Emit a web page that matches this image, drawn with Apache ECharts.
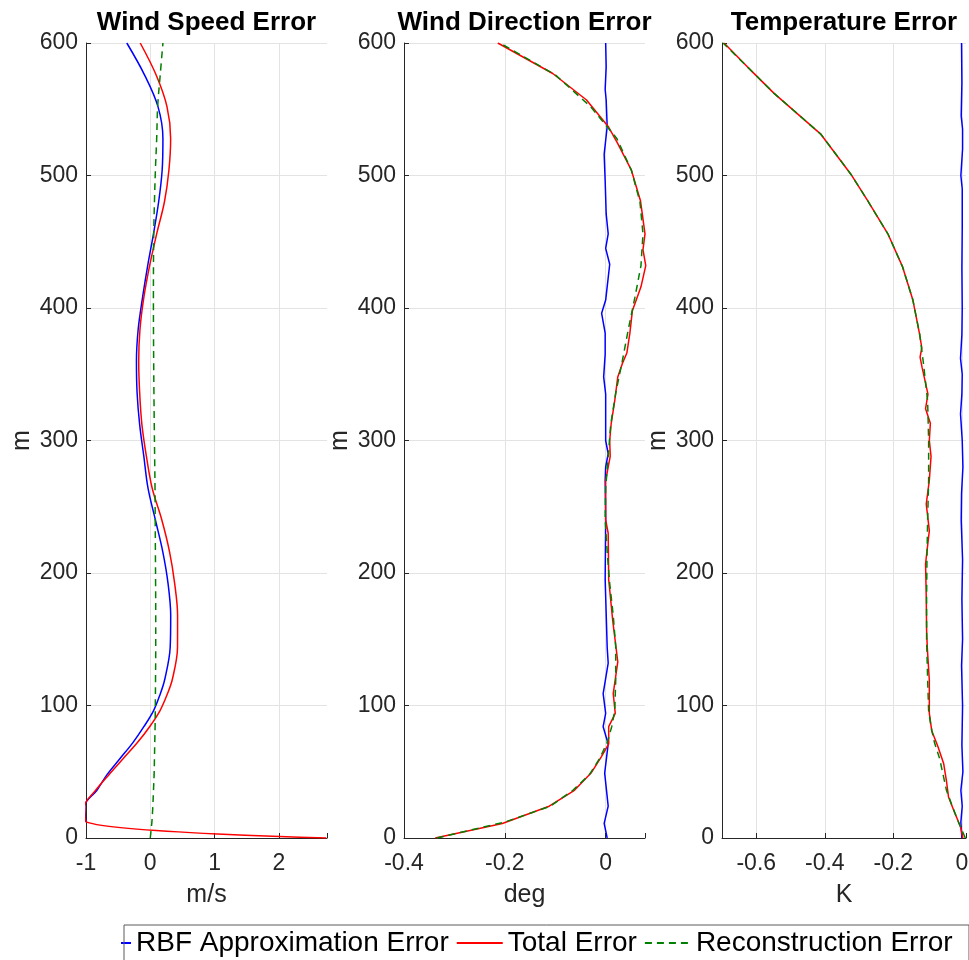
<!DOCTYPE html>
<html>
<head>
<meta charset="utf-8">
<script src="https://cdn.jsdelivr.net/npm/echarts@6/dist/echarts.min.js"></script>
<style>
html,body{margin:0;padding:0;background:#fff;}
#c{width:969px;height:960px;}
</style>
</head>
<body>
<div id="c"></div>
<script>
// ---------- data ----------
const titles = ['Wind Speed Error', 'Wind Direction Error', 'Temperature Error'];
const units = ['m/s', 'deg', 'K'];
const seriesNames = ['RBF Approximation Error', 'Total Error', 'Reconstruction Error'];
const heightTicks = [0, 100, 200, 300, 400, 500, 600];

// Panel 1: Wind speed (m)
const speedH = [0, 12, 24, 36, 48, 60, 72, 84, 96, 108, 120, 144, 168, 192, 216, 240, 264, 288, 312, 336, 360, 384, 408, 432, 456, 480, 504, 528, 552, 576, 600];
const speedRbf = [null, -1.0, -1.02, -0.83, -0.67, -0.47, -0.27, -0.10, 0.05, 0.15, 0.227, 0.31, 0.318, 0.277, 0.195, 0.08, -0.035, -0.10, -0.165, -0.205, -0.215, -0.188, -0.12, -0.04, 0.05, 0.13, 0.185, 0.197, 0.12, -0.09, -0.365];
const speedTotal = [2.74, -0.99, -1.02, -0.85, -0.64, -0.42, -0.2, -0.01, 0.15, 0.26, 0.345, 0.424, 0.425, 0.38, 0.30, 0.18, 0.03, -0.06, -0.13, -0.165, -0.18, -0.16, -0.10, -0.01, 0.10, 0.22, 0.29, 0.317, 0.26, 0.09, -0.156];
const speedRecon = [0.0, 0.025, 0.04, 0.05, 0.06, 0.065, 0.07, 0.075, 0.078, 0.08, 0.082, 0.085, 0.085, 0.083, 0.08, 0.077, 0.074, 0.068, 0.062, 0.057, 0.053, 0.05, 0.049, 0.05, 0.054, 0.065, 0.08, 0.1, 0.115, 0.155, 0.197];

// Panel 2: Wind direction
const dirRbfH = [0, 11, 24, 49, 71, 84, 94, 109, 132, 144, 195, 240, 270, 280, 290, 300, 335, 348, 365, 381, 396, 406, 433, 445, 456, 471, 496, 516, 537, 557, 565, 582, 600];
const dirRbf = [0.003, -0.003, 0.005, -0.002, 0.005, -0.005, 0.0, -0.005, 0.005, 0.003, -0.001, 0.0, -0.001, 0.0, 0.005, 0.0, 0.0, -0.004, -0.001, -0.001, -0.008, 0.0, 0.008, 0.0, 0.005, 0.001, -0.001, -0.003, 0.003, 0.001, -0.001, 0.001, 0.0];
const dirTotalH = [0, 11, 24, 36, 49, 61, 71, 84, 94, 109, 133, 164, 195, 230, 240, 270, 288, 300, 313, 330, 348, 358, 366, 381, 398, 416, 432, 444, 456, 481, 504, 524, 537, 557, 577, 600];
const dirTotal = [-0.338, -0.205, -0.112, -0.062, -0.029, -0.009, 0.006, 0.006, 0.019, 0.015, 0.024, 0.014, 0.006, 0.005, 0.0, 0.0, 0.009, 0.008, 0.011, 0.018, 0.024, 0.033, 0.042, 0.048, 0.053, 0.07, 0.0795, 0.074, 0.078, 0.069, 0.051, 0.024, 0.005, -0.038, -0.105, -0.214];
const dirReconH = [0, 12, 24, 36, 48, 60, 72, 84, 96, 120, 144, 168, 192, 216, 240, 264, 288, 312, 336, 360, 384, 408, 432, 456, 480, 504, 528, 552, 576, 600];
const dirRecon = [-0.335, -0.2, -0.11, -0.065, -0.032, -0.012, 0.003, 0.012, 0.018, 0.02, 0.02, 0.015, 0.008, 0.003, -0.001, 0.0, 0.005, 0.01, 0.02, 0.033, 0.045, 0.058, 0.07, 0.074, 0.068, 0.051, 0.022, -0.03, -0.1, -0.21];

// Panel 3: Temperature
const tempRbfH = [0, 12, 24, 36, 50, 70, 100, 130, 150, 180, 210, 240, 260, 280, 300, 320, 335, 350, 362, 380, 400, 430, 460, 490, 500, 520, 535, 545, 570, 600];
const tempRbf = [0.0, -0.003, 0.001, -0.003, 0.003, 0.0, 0.002, -0.001, 0.002, 0.0, 0.002, -0.002, -0.001, 0.003, 0.001, -0.004, 0.0, 0.001, -0.004, 0.0, 0.001, 0.0, 0.001, 0.001, -0.003, 0.002, 0.002, -0.002, 0.0, -0.001];
const tempTotalH = [0, 8.5, 19, 31, 43, 56, 69, 81, 94, 119, 144, 157, 182, 207, 232, 252, 270, 288, 300, 313, 324, 335, 355, 363, 370, 381, 406, 431, 456, 481, 501, 531, 562, 582, 600];
const tempTotal = [0.003, -0.004, -0.021, -0.039, -0.045, -0.053, -0.07, -0.088, -0.095, -0.095, -0.101, -0.103, -0.104, -0.106, -0.095, -0.104, -0.095, -0.09, -0.095, -0.092, -0.106, -0.099, -0.116, -0.122, -0.117, -0.124, -0.143, -0.173, -0.216, -0.275, -0.324, -0.411, -0.548, -0.626, -0.694];
const tempReconH = [0, 12, 24, 36, 48, 60, 72, 84, 96, 120, 150, 180, 210, 240, 270, 300, 330, 360, 380, 406, 431, 456, 481, 501, 531, 562, 582, 600];
const tempRecon = [0.01, -0.01, -0.028, -0.045, -0.055, -0.065, -0.08, -0.09, -0.097, -0.1, -0.103, -0.103, -0.102, -0.1, -0.097, -0.097, -0.1, -0.113, -0.123, -0.143, -0.173, -0.216, -0.275, -0.324, -0.411, -0.548, -0.626, -0.697];

// axis extents / ticks
const xMins = [-1, -0.4, -0.7];
const xMaxs = [2.75, 0.078, 0.012];
const xIntervals = [1, 0.2, 0.2];
const xTickLabels = [[-1, 0, 1, 2], [-0.4, -0.2, 0], [-0.6, -0.4, -0.2, 0]];

// ---------- build ----------
const FONT = '"Liberation Sans", Arial, Helvetica, sans-serif';
const AXC = '#262626';
const colors = ['#0000ff', '#ff0000', '#008000'];

function pairs(h, v) {
  const out = [];
  for (let i = 0; i < h.length; i++) if (v[i] !== null) out.push([v[i], h[i]]);
  return out;
}
const panelData = [
  [pairs(speedH, speedRbf), pairs(speedH, speedTotal), pairs(speedH, speedRecon)],
  [pairs(dirRbfH, dirRbf), pairs(dirTotalH, dirTotal), pairs(dirReconH, dirRecon)],
  [pairs(tempRbfH, tempRbf), pairs(tempTotalH, tempTotal), pairs(tempReconH, tempRecon)]
];

const gridLefts = [86, 404, 722];
const gridWidths = [241, 241, 244];

const grid = [], xAxis = [], yAxis = [], title = [], series = [];
for (let p = 0; p < 3; p++) {
  grid.push({left: gridLefts[p], top: 43, width: gridWidths[p], height: 795, containLabel: false, outerBoundsMode: 'none'});
  title.push({
    text: titles[p], left: gridLefts[p] + gridWidths[p] / 2, top: 10, textAlign: 'center', padding: 0,
    textStyle: {fontFamily: FONT, fontSize: 26, fontWeight: 'bold', color: '#000'}
  });
  const labs = xTickLabels[p];
  const xOpt = {
    type: 'value', gridIndex: p, min: xMins[p], max: xMaxs[p],
    name: units[p], nameLocation: 'middle', nameGap: 45,
    nameTextStyle: {fontFamily: FONT, fontSize: 25, color: AXC},
    axisLine: {show: true, onZero: false, lineStyle: {color: AXC, width: 1}},
    axisTick: {show: true, inside: true, length: 5, lineStyle: {color: AXC}},
    axisLabel: {
      fontFamily: FONT, fontSize: 23, color: AXC, margin: 14,
      formatter: function (v) {
        for (const t of labs) if (Math.abs(v - t) < 1e-6) return String(t);
        return '';
      }
    },
    splitLine: {show: true, showMaxLine: false, lineStyle: {color: '#e3e3e3', width: 1}}
  };
  if (p < 2) xOpt.interval = xIntervals[p];
  else xOpt.splitNumber = 4;
  xAxis.push(xOpt);
  yAxis.push({
    type: 'value', gridIndex: p, min: 0, max: 600, interval: 100,
    name: 'm', nameLocation: 'middle', nameGap: 51, nameRotate: 90,
    nameTextStyle: {fontFamily: FONT, fontSize: 25, color: AXC},
    axisLine: {show: true, onZero: false, lineStyle: {color: AXC, width: 1}},
    axisTick: {show: true, inside: true, length: 5, lineStyle: {color: AXC}},
    axisLabel: {fontFamily: FONT, fontSize: 23, color: AXC, margin: 8,
      formatter: function (v) { return heightTicks.indexOf(v) >= 0 ? String(v) : ''; }},
    splitLine: {show: true, lineStyle: {color: '#e3e3e3', width: 1}}
  });
  for (let s = 0; s < 3; s++) {
    series.push({
      type: 'line', name: seriesNames[s], xAxisIndex: p, yAxisIndex: p,
      data: panelData[p][s], symbol: 'none', showSymbol: false,
      smooth: p === 0 ? 0.35 : false,
      color: colors[s],
      lineStyle: {color: colors[s], width: 1.5, type: s === 2 ? [7, 5] : 'solid'},
      z: s === 2 ? 4 : 3,
      animation: false
    });
  }
}

const chart = echarts.init(document.getElementById('c'), null, {renderer: 'canvas'});
chart.setOption({
  animation: false,
  backgroundColor: '#fff',
  title: title,
  grid: grid,
  xAxis: xAxis,
  yAxis: yAxis,
  legend: {
    data: seriesNames, left: 84, top: 929, padding: 0,
    itemWidth: 46, itemHeight: 14, itemGap: 7,
    itemStyle: {opacity: 0},
    textStyle: {fontFamily: FONT, fontSize: 28, color: '#000'}
  },
  graphic: [{
    type: 'rect', left: 60, top: 918, z: 100, shape: {width: 61, height: 42},
    style: {fill: '#fff', stroke: null}, silent: true
  }, {
    type: 'rect', left: 121.5, top: 922.5, z: 101, shape: {width: 845, height: 37},
    style: {fill: 'none', stroke: '#5a5a5a', lineWidth: 1}, silent: true
  }],
  series: series
});
</script>
</body>
</html>
